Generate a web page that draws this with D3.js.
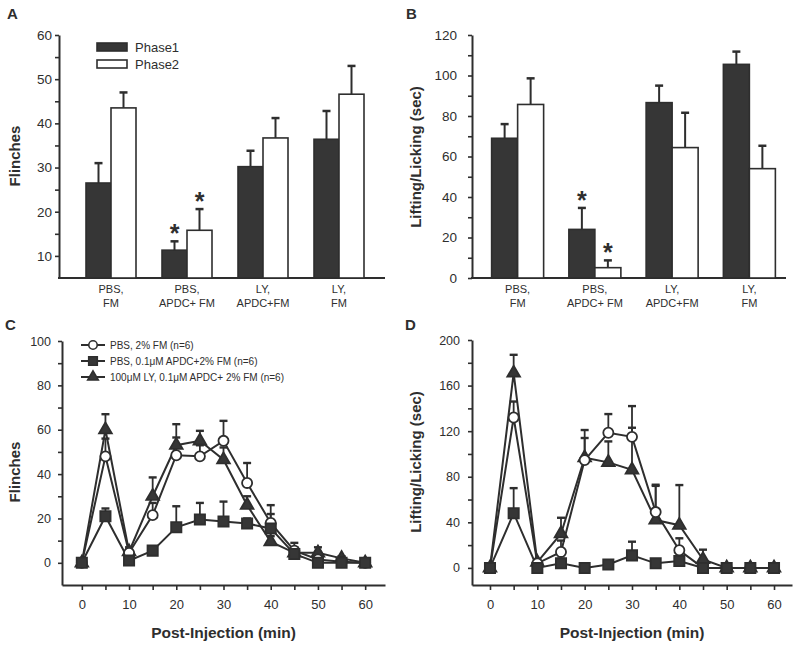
<!DOCTYPE html>
<html><head><meta charset="utf-8">
<script src="https://cdn.jsdelivr.net/npm/d3@7"></script>
<style>
body{margin:0;background:#fff}
svg{display:block}
text{font-family:"Liberation Sans",Arial,Helvetica,sans-serif;fill:#2e2e2e}
</style>
</head><body>
<svg id="c" width="800" height="646"></svg>
<script>
// ---------- DATA ----------
const categories = ["PBS, FM", "PBS, APDC+ FM", "LY, APDC+FM", "LY, FM"];
const phases = ["Phase1", "Phase2"];
const significant = [false, true, false, false];

// Panel A: Flinches
const flinchPhase1    = [26.5, 11.3, 30.2, 36.4];
const flinchPhase1Err = [4.5, 2.0, 3.6, 6.4];
const flinchPhase2    = [43.5, 15.8, 36.7, 46.6];
const flinchPhase2Err = [3.5, 4.8, 4.5, 6.4];

// Panel B: Lifting/Licking (sec)
const lickPhase1    = [69, 24, 86.6, 105.5];
const lickPhase1Err = [7, 10.6, 8.4, 6.3];
const lickPhase2    = [85.7, 5.1, 64.4, 54];
const lickPhase2Err = [12.9, 3.6, 17.2, 11.3];

// Panels C & D: time course
const times = [0, 5, 10, 15, 20, 25, 30, 35, 40, 45, 50, 55, 60];
const seriesNames = ["PBS, 2% FM (n=6)", "PBS, 0.1\u03bcM APDC+2% FM (n=6)", "100\u03bcM LY, 0.1\u03bcM APDC+ 2% FM (n=6)"];

const flinchPBS       = [0, 48, 4.5, 21.5, 48.5, 48, 55, 36, 18, 5.5, 1.5, 0.5, 0];
const flinchPBSErr    = [0, 8, 1.5, 5.5, 8, 5, 9, 9, 8, 3.5, 1.5, 0.5, 0];
const flinchAPDC      = [0, 21, 1, 5.5, 16, 19.5, 18.6, 17.7, 15.5, 4, 0, 0, 0];
const flinchAPDCErr   = [0, 3.5, 1, 1.5, 9.5, 7.5, 9, 2.3, 6.5, 2, 2, 0, 0];
const flinchLY        = [0, 60, 5, 30, 53, 55, 46.5, 26, 9.5, 4.5, 4.5, 2, 0];
const flinchLYErr     = [0, 7, 2, 8.5, 9.5, 4.5, 5.5, 4, 2.5, 2.5, 2.5, 1, 0];

const lickPBS     = [0, 132, 4, 14, 94.6, 118.6, 115, 49, 15.5, 0, 0, 0, 0];
const lickPBSErr  = [0, 14, 2, 10, 19.4, 16.4, 27, 24, 10.5, 0, 0, 0, 0];
const lickAPDC    = [0, 48, 0, 4, 0, 3, 11, 4, 6, 0, 0, 0, 0];
const lickAPDCErr = [0, 22, 1, 4, 0, 1, 12, 1, 3, 0, 0, 0, 0];
const lickLY      = [0, 171, 5, 30, 96.7, 92.6, 86, 42, 37.5, 7.4, 0, 0, 0];
const lickLYErr   = [0, 16, 2, 14, 24.3, 18.4, 37, 30, 35.2, 8.6, 0, 0, 0];

// ---------- DRAWING ----------
const svg = d3.select("#c");
const INK = "#2e2e2e", DARK = "#363636";

function styleAxis(sel, fontSize){
  sel.select(".domain").attr("stroke", INK).attr("stroke-width", 2);
  sel.selectAll(".tick line").attr("stroke", INK).attr("stroke-width", 1.6);
  sel.selectAll(".tick text").style("font-size", fontSize + "px").style("fill", INK)
     .style("font-family", '"Liberation Sans",Arial,sans-serif');
}

function panelLetter(t, x, y){
  svg.append("text").attr("x", x).attr("y", y).text(t)
    .style("font-size", "15px").style("font-weight", "bold");
}

function yTitle(t, x, y){
  svg.append("text").attr("transform", `translate(${x},${y}) rotate(-90)`)
    .attr("text-anchor", "middle").text(t)
    .style("font-size", "15px").style("font-weight", "bold");
}

function barPanel(o){
  const g = svg.append("g");
  const x0 = d3.scaleBand().domain(categories).range(o.xRange);
  const x1 = d3.scaleBand().domain(phases)
    .range([x0.bandwidth()/2 - o.barW, x0.bandwidth()/2 + o.barW]);
  const y = d3.scaleLinear().domain(o.yDomain).range(o.yRange);

  const ya = d3.axisLeft(y).tickValues(o.ticks).tickSize(4).tickSizeOuter(0)
    .tickPadding(o.pad).tickFormat(d => o.labels.includes(d) ? d : "");
  const gy = g.append("g").attr("transform", `translate(${o.axisX},0)`).call(ya);
  styleAxis(gy, 13.5);

  const base = y(o.yDomain[0]);
  g.append("line").attr("x1", o.axisX - 1).attr("x2", o.axisEnd)
    .attr("y1", base).attr("y2", base).attr("stroke", INK).attr("stroke-width", 2);

  const data = [];
  categories.forEach((c, i) => {
    data.push({c, p: "Phase1", v: o.p1[i], e: o.p1e[i], sig: significant[i]});
    data.push({c, p: "Phase2", v: o.p2[i], e: o.p2e[i], sig: significant[i]});
  });
  const cx = d => x0(d.c) + x1(d.p) + x1.bandwidth()/2;

  // error bars
  g.selectAll(".eb").data(data).join("line")
    .attr("x1", cx).attr("x2", cx).attr("y1", d => y(d.v)).attr("y2", d => y(d.v + d.e))
    .attr("stroke", INK).attr("stroke-width", 2);
  g.selectAll(".cap").data(data).join("line")
    .attr("x1", d => cx(d) - 4).attr("x2", d => cx(d) + 4)
    .attr("y1", d => y(d.v + d.e)).attr("y2", d => y(d.v + d.e))
    .attr("stroke", INK).attr("stroke-width", 2.5);
  // bars
  g.selectAll(".bar").data(data).join("rect")
    .attr("x", d => x0(d.c) + x1(d.p)).attr("width", x1.bandwidth())
    .attr("y", d => y(d.v)).attr("height", d => base - y(d.v))
    .attr("fill", d => d.p === "Phase1" ? DARK : "#fff")
    .attr("stroke", INK).attr("stroke-width", 1.6);
  // stars
  g.selectAll(".star").data(data.filter(d => d.sig)).join("text")
    .attr("x", cx).attr("y", d => y(d.v + d.e) + 1).attr("text-anchor", "middle")
    .text("*").style("font-size", "25px").style("font-weight", "bold").style("fill", INK);

  // category labels
  const lab = g.selectAll(".cat").data(categories).join("text")
    .attr("text-anchor", "middle").style("font-size", "11px");
  lab.append("tspan").attr("x", d => x0(d) + x0.bandwidth()/2).attr("y", base + 15)
    .text(d => d.split(", ")[0] + ",");
  lab.append("tspan").attr("x", d => x0(d) + x0.bandwidth()/2).attr("y", base + 29)
    .text(d => d.split(", ")[1]);

  if (o.legend){
    const lg = g.append("g");
    phases.forEach((p, i) => {
      lg.append("rect").attr("x", 97).attr("y", 43 + i*17).attr("width", 30).attr("height", 8)
        .attr("fill", i === 0 ? DARK : "#fff").attr("stroke", INK).attr("stroke-width", 1.6);
      lg.append("text").attr("x", 135).attr("y", 52 + i*17).text(p).style("font-size", "13px");
    });
  }
}

const symbols = [d3.symbolCircle, d3.symbolSquare, d3.symbolTriangle];
const fills = ["#fff", DARK, DARK];
const sizes = [80, 105, 70];
const markerOrder = [2, 0, 1];

function linePanel(o){
  const g = svg.append("g");
  const x = d3.scaleLinear().domain(o.xDomain).range(o.xRange);
  const y = d3.scaleLinear().domain(o.yDomain).range(o.yRange);

  const ya = d3.axisLeft(y).tickValues(o.ticks).tickSize(4).tickSizeOuter(0)
    .tickPadding(o.pad).tickFormat(d => o.labels.includes(d) ? d : "");
  const gy = g.append("g").attr("transform", `translate(${o.xRange[0]},0)`).call(ya);
  styleAxis(gy, 12.5);

  const xa = d3.axisBottom(x).tickValues(times).tickSize(5).tickSizeOuter(0)
    .tickPadding(10).tickFormat(d => d % 10 === 0 ? d : "");
  const gx = g.append("g").attr("transform", `translate(0,${o.yRange[0]})`).call(xa);
  styleAxis(gx, 13);

  const series = o.series;
  const line = d3.line().x((d, i) => x(times[i])).y(d => y(d));

  series.forEach((s, k) => {
    const pts = times.map((t, i) => ({t, v: s.v[i], e: s.e[i]})).filter(d => d.e > 0);
    g.selectAll(null).data(pts).join("line")
      .attr("x1", d => x(d.t)).attr("x2", d => x(d.t))
      .attr("y1", d => y(d.v)).attr("y2", d => y(d.v + d.e))
      .attr("stroke", INK).attr("stroke-width", 1.8);
    g.selectAll(null).data(pts).join("line")
      .attr("x1", d => x(d.t) - 4).attr("x2", d => x(d.t) + 4)
      .attr("y1", d => y(d.v + d.e)).attr("y2", d => y(d.v + d.e))
      .attr("stroke", INK).attr("stroke-width", 2.4);
  });
  series.forEach((s, k) => {
    g.append("path").datum(s.v).attr("d", line).attr("fill", "none")
      .attr("stroke", INK).attr("stroke-width", 2);
  });
  markerOrder.forEach(k => {
    const s = series[k];
    g.selectAll(null).data(s.v).join("path")
      .attr("transform", (d, i) => `translate(${x(times[i])},${y(d)})`)
      .attr("d", d3.symbol().type(symbols[k]).size(sizes[k]))
      .attr("fill", fills[k]).attr("stroke", INK).attr("stroke-width", 1.8);
  });

  if (o.legend){
    seriesNames.forEach((n, k) => {
      const ly = 345 + k*16;
      g.append("line").attr("x1", 81).attr("x2", 105).attr("y1", ly).attr("y2", ly)
        .attr("stroke", INK).attr("stroke-width", 2);
      g.append("path").attr("transform", `translate(93,${ly})`)
        .attr("d", d3.symbol().type(symbols[k]).size(sizes[k]*0.7))
        .attr("fill", fills[k]).attr("stroke", INK).attr("stroke-width", 1.6);
      g.append("text").attr("x", 110).attr("y", ly).attr("dy", "0.35em").text(n)
        .style("font-size", "10px");
    });
  }

  svg.append("text").attr("x", (o.xRange[0] + o.xRange[1]) / 2).attr("y", 638)
    .attr("text-anchor", "middle").text("Post-Injection (min)")
    .style("font-size", "15.5px").style("font-weight", "bold");
}

// Panel A
barPanel({xRange: [73, 377], barW: 25, yDomain: [5, 60], yRange: [278, 35], axisX: 59, axisEnd: 385,
  ticks: [10,15,20,25,30,35,40,45,50,55,60], labels: [10,20,30,40,50,60], pad: 3,
  p1: flinchPhase1, p1e: flinchPhase1Err, p2: flinchPhase2, p2e: flinchPhase2Err, legend: true});
panelLetter("A", 7, 19);
yTitle("Flinches", 20, 156);

// Panel B
barPanel({xRange: [479, 788], barW: 26, yDomain: [0, 120], yRange: [278, 35], axisX: 472, axisEnd: 786,
  ticks: d3.range(0, 121, 10), labels: [0,20,40,60,80,100,120], pad: 11,
  p1: lickPhase1, p1e: lickPhase1Err, p2: lickPhase2, p2e: lickPhase2Err, legend: false});
panelLetter("B", 406, 19);
yTitle("Lifting/Licking (sec)", 421, 157);

// Panel C
linePanel({xDomain: [-4.2, 64.2], xRange: [62, 385], yDomain: [-10, 100], yRange: [585, 341],
  ticks: d3.range(0, 101, 10), labels: [0,20,40,60,80,100], pad: 7,
  series: [{v: flinchPBS, e: flinchPBSErr}, {v: flinchAPDC, e: flinchAPDCErr}, {v: flinchLY, e: flinchLYErr}],
  legend: true});
panelLetter("C", 5, 330);
yTitle("Flinches", 20, 472);

// Panel D
linePanel({xDomain: [-3.8, 63.8], xRange: [472, 792], yDomain: [-15, 200], yRange: [585, 340],
  ticks: d3.range(0, 201, 20), labels: [0,40,80,120,160,200], pad: 8,
  series: [{v: lickPBS, e: lickPBSErr}, {v: lickAPDC, e: lickAPDCErr}, {v: lickLY, e: lickLYErr}],
  legend: false});
panelLetter("D", 405, 330);
yTitle("Lifting/Licking (sec)", 421, 462);
</script>
</body></html>
